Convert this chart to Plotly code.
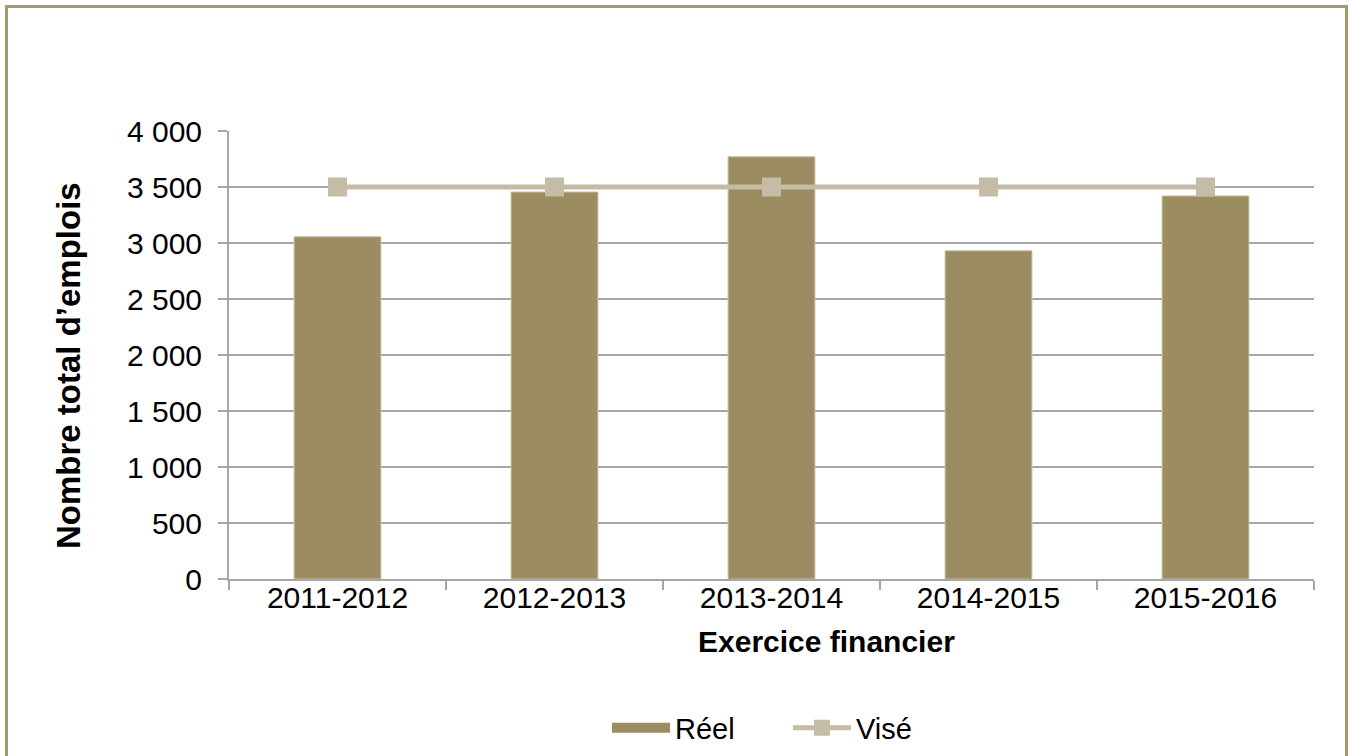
import plotly.graph_objects as go

categories = ["2011-2012", "2012-2013", "2013-2014", "2014-2015", "2015-2016"]
reel = [3055, 3455, 3770, 2930, 3420]
vise = [3500, 3500, 3500, 3500, 3500]
tick_vals = [0, 500, 1000, 1500, 2000, 2500, 3000, 3500, 4000]
tick_text = ["0", "500", "1 000", "1 500", "2 000", "2 500", "3 000", "3 500", "4 000"]

BAR = "#9c8c61"
LINE = "#c5bca6"
GRID = "#a6a6a6"
FONT = "Liberation Sans, Arial, sans-serif"

fig = go.Figure()
fig.add_trace(go.Bar(x=categories, y=reel, name="Réel", showlegend=False,
                     marker=dict(color=BAR, line=dict(color="#c8bf9f", width=1))))
# legend entry for the bars, drawn as a wide swatch like the original
fig.add_trace(go.Scatter(x=[None], y=[None], name="Réel", mode="lines",
                         line=dict(color=BAR, width=15)))
fig.add_trace(go.Scatter(x=categories, y=vise, name="Visé", mode="lines+markers",
                         line=dict(color=LINE, width=5),
                         marker=dict(symbol="square", size=19, color=LINE)))

L, R, T, B = 229, 36, 131, 177
W, H = 1350, 756
pw, ph = W - L - R, H - T - B

def px(x):
    return (x - L) / pw

def py(y):
    return (H - B - y) / ph

fig.update_layout(
    width=W, height=H,
    margin=dict(l=L, r=R, t=T, b=B, autoexpand=False),
    paper_bgcolor="white", plot_bgcolor="white",
    font=dict(family=FONT, size=30, color="#000000"),
    bargap=0.6,
    showlegend=True,
    legend=dict(orientation="h", x=px(607), xanchor="left", y=py(728), yanchor="middle",
                font=dict(size=29), itemwidth=58, entrywidth=108, traceorder="normal",
                bgcolor="rgba(0,0,0,0)"),
    xaxis=dict(showgrid=False, showline=True, linecolor=GRID, linewidth=2,
               ticks="outside", tickson="boundaries", ticklen=9, tickcolor=GRID, tickwidth=2,
               tickfont=dict(size=30), ticklabelstandoff=-9, automargin=False),
    yaxis=dict(range=[0, 4000], tickvals=tick_vals, ticktext=tick_text, showgrid=True,
               gridcolor=GRID, gridwidth=2, showline=True, linecolor=GRID, linewidth=2,
               ticks="outside", ticklen=9, tickcolor=GRID, tickwidth=2, zeroline=False,
               tickfont=dict(size=30), ticklabelstandoff=10, automargin=False),
    annotations=[
        dict(text="<b>Nombre total d’emplois</b>", x=px(68), y=py(366), xref="paper", yref="paper",
             textangle=-90, showarrow=False, font=dict(size=33), xanchor="center", yanchor="middle"),
        dict(text="<b>Exercice financier</b>", x=px(826), y=py(641), xref="paper", yref="paper",
             showarrow=False, font=dict(size=30), xanchor="center", yanchor="middle"),
    ],
    shapes=[
        dict(type="rect", xref="paper", yref="paper", x0=px(6.5), x1=px(1346.5), y0=py(770), y1=py(6.5),
             line=dict(color="#a8996a", width=3), fillcolor="rgba(0,0,0,0)", layer="below"),
    ],
)

fig.write_html("out.html", config={"displayModeBar": False},
               post_script="document.body.style.margin='0';document.body.style.overflow='hidden';")
